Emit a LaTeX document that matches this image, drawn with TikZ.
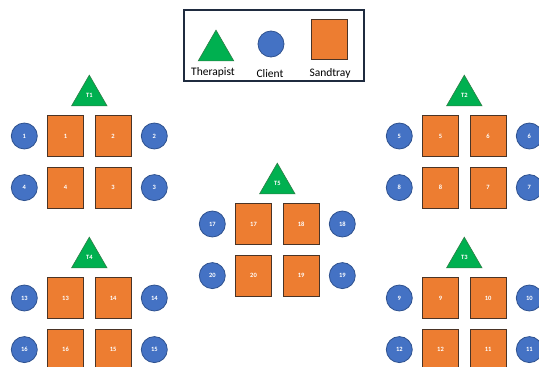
\documentclass[tikz,border=0pt]{standalone}
\usepackage{fontspec}
\setmainfont{Carlito}
\usepackage{xcolor}
\usepackage{tikz}
\usetikzlibrary{positioning, shapes.geometric, calc}
\definecolor{trayorange}{HTML}{ED7D31}
\definecolor{trayedge}{HTML}{4A3426}
\definecolor{clientblue}{HTML}{4472C4}
\definecolor{clientedge}{HTML}{2F528F}
\definecolor{therapgreen}{HTML}{00B050}
\definecolor{therapedge}{HTML}{2E7D45}
\definecolor{legendnavy}{HTML}{1F2B3F}

\tikzset{
  tray/.style={rectangle, fill=trayorange, draw=trayedge, line width=0.6pt,
    minimum width=36pt, minimum height=41pt, inner sep=0pt,
    text=white, font=\fontsize{6.5}{7}\selectfont\bfseries},
  client/.style={circle, fill=clientblue, draw=clientedge, line width=0.8pt,
    minimum size=26pt, inner sep=0pt,
    text=white, font=\fontsize{6.5}{7}\selectfont\bfseries},
  therapist/.style={regular polygon, regular polygon sides=3, fill=therapgreen,
    draw=therapedge, line width=0.6pt, minimum size=41pt, inner sep=0pt,
    text=white, font=\fontsize{6.5}{7}\selectfont\bfseries},
  legendlabel/.style={font=\fontsize{11.5}{13}\selectfont, inner sep=0pt}
}

% one therapist with four sandtrays and four clients
% #1 name, #2 x, #3 y, #4 therapist, #5 first number
\newcommand{\trayset}[5]{%
  \node[tray] (#1a) at (#2-23.5, #3) {\the\numexpr#5\relax};
  \node[tray, right=11pt of #1a] (#1b) {\the\numexpr#5+1\relax};
  \node[tray, below=10pt of #1b] (#1c) {\the\numexpr#5+2\relax};
  \node[tray, below=10pt of #1a] (#1d) {\the\numexpr#5+3\relax};
  \node[client, left=9.5pt of #1a] (#1ca) {\the\numexpr#5\relax};
  \node[client, right=9.5pt of #1b] (#1cb) {\the\numexpr#5+1\relax};
  \node[client, right=9.5pt of #1c] (#1cc) {\the\numexpr#5+2\relax};
  \node[client, left=9.5pt of #1d] (#1cd) {\the\numexpr#5+3\relax};
  \coordinate (#1m) at ($(#1a.north)!0.5!(#1b.north)$);
  \node[therapist, above=9pt of #1m] (#1t) {#4};
}

\begin{document}
\begin{tikzpicture}[x=1pt, y=-1pt]
  \useasboundingbox (0,0) rectangle (539,367);

  % legend
  \node[draw=legendnavy, line width=2pt, minimum width=180pt, minimum height=71pt,
        inner sep=0pt] (legend) at (274,45.5) {};
  \node[therapist] (lgther) at (216,50.6) {};
  \node[client] (lgcli) at (271,44) {};
  \node[tray, minimum height=40pt] (lgsand) at (329,39) {};
  \node[legendlabel] (lgtherlbl) at (213,72) {Therapist};
  \node[legendlabel] (lgclilbl) at (270,74) {Client};
  \node[legendlabel] (lgsandlbl) at (330,73) {Sandtray};

  % groups
  \trayset{ga}{89}{136}{T1}{1}
  \trayset{gb}{464}{136}{T2}{5}
  \trayset{gc}{464}{298}{T3}{9}
  \trayset{gd}{89}{298}{T4}{13}
  \trayset{ge}{277}{224}{T5}{17}
\end{tikzpicture}
\end{document}
